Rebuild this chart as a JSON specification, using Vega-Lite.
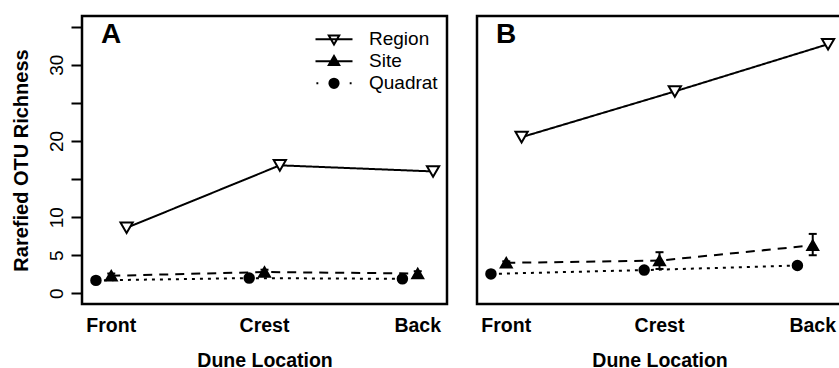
{
  "$schema": "https://vega.github.io/schema/vega-lite/v6.json",
  "background": "white",
  "padding": {"left": 9, "top": 14, "right": 0, "bottom": 0},
  "spacing": 26,
  "config": {
    "font": "Liberation Sans",
    "view": {"stroke": "black", "strokeWidth": 2.5},
    "axis": {"grid": false, "labelColor": "black", "titleColor": "black", "labelFont": "Liberation Sans", "titleFont": "Liberation Sans"}
  },
  "datasets": {
    "richness": [
      {"panel": "A", "location": "Front", "series": "Region", "value": 8.6, "lo": null, "hi": null},
      {"panel": "A", "location": "Crest", "series": "Region", "value": 16.8, "lo": null, "hi": null},
      {"panel": "A", "location": "Back", "series": "Region", "value": 16.0, "lo": null, "hi": null},
      {"panel": "A", "location": "Front", "series": "Site", "value": 2.3, "lo": 2.0, "hi": 2.6},
      {"panel": "A", "location": "Crest", "series": "Site", "value": 2.8, "lo": 2.5, "hi": 3.1},
      {"panel": "A", "location": "Back", "series": "Site", "value": 2.6, "lo": 2.35, "hi": 2.9},
      {"panel": "A", "location": "Front", "series": "Quadrat", "value": 1.7, "lo": 1.6, "hi": 1.8},
      {"panel": "A", "location": "Crest", "series": "Quadrat", "value": 2.0, "lo": 1.9, "hi": 2.1},
      {"panel": "A", "location": "Back", "series": "Quadrat", "value": 1.9, "lo": 1.8, "hi": 2.0},
      {"panel": "B", "location": "Front", "series": "Region", "value": 20.5, "lo": null, "hi": null},
      {"panel": "B", "location": "Crest", "series": "Region", "value": 26.5, "lo": null, "hi": null},
      {"panel": "B", "location": "Back", "series": "Region", "value": 32.7, "lo": null, "hi": null},
      {"panel": "B", "location": "Front", "series": "Site", "value": 4.0, "lo": 3.8, "hi": 4.2},
      {"panel": "B", "location": "Crest", "series": "Site", "value": 4.3, "lo": 3.2, "hi": 5.4},
      {"panel": "B", "location": "Back", "series": "Site", "value": 6.3, "lo": 5.0, "hi": 7.8},
      {"panel": "B", "location": "Front", "series": "Quadrat", "value": 2.55, "lo": 2.45, "hi": 2.65},
      {"panel": "B", "location": "Crest", "series": "Quadrat", "value": 3.05, "lo": 2.9, "hi": 3.2},
      {"panel": "B", "location": "Back", "series": "Quadrat", "value": 3.65, "lo": 3.45, "hi": 3.85}
    ]
  },
  "hconcat": [
    {
      "width": 365,
      "height": 288,
      "data": {"name": "richness"},
      "transform": [{"filter": "datum.panel === 'A'"}],
      "encoding": {
        "x": {
          "field": "location", "type": "nominal", "sort": ["Front", "Crest", "Back"],
          "scale": {"type": "band", "paddingInner": 0.8, "paddingOuter": 0.091},
          "axis": {"title": "Dune Location", "domain": false, "ticks": false, "tickSize": 0, "labelAngle": 0, "labelFontSize": 19.5, "labelFontWeight": "bold", "labelBaseline": "alphabetic", "labelPadding": 27, "titleFontSize": 19.5, "titleFontWeight": "bold", "titleBaseline": "alphabetic", "titleY": 62}
        },
        "xOffset": {"field": "series", "type": "nominal", "sort": ["Quadrat", "Site", "Region"], "scale": {"type": "point", "padding": 0}},
        "y": {
          "field": "value", "type": "quantitative",
          "scale": {"domain": [-1.4, 36.4], "nice": false, "zero": false},
          "axis": {"title": "Rarefied OTU Richness", "values": [0, 5, 10, 15, 20, 25, 30, 35], "labelExpr": "indexof([0, 5, 10, 20, 30], datum.value) >= 0 ? datum.label : ''", "domain": false, "tickSize": 11, "tickWidth": 2, "tickColor": "black", "labelAngle": 270, "labelAlign": "center", "labelBaseline": "alphabetic", "labelPadding": 9, "labelFontSize": 19, "labelFlush": false, "labelOverlap": false, "titleFontSize": 20, "titleFontWeight": "bold", "titleAngle": 270, "titleBaseline": "alphabetic", "titleX": -55}
        }
      },
      "layer": [
        {
          "mark": {"type": "line", "color": "black", "strokeWidth": 2},
          "encoding": {"strokeDash": {"field": "series", "type": "nominal", "scale": {"domain": ["Region", "Site", "Quadrat"], "range": [[1, 0], [9, 7], [3, 5]]}, "legend": null}}
        },
        {
          "mark": {"type": "rule", "color": "black", "strokeWidth": 2},
          "encoding": {"y": {"field": "lo", "type": "quantitative"}, "y2": {"field": "hi"}}
        },
        {
          "mark": {"type": "point", "shape": "stroke", "size": 64, "color": "black", "strokeWidth": 2, "opacity": 1},
          "encoding": {"y": {"field": "lo", "type": "quantitative"}}
        },
        {
          "mark": {"type": "point", "shape": "stroke", "size": 64, "color": "black", "strokeWidth": 2, "opacity": 1},
          "encoding": {"y": {"field": "hi", "type": "quantitative"}}
        },
        {
          "mark": {"type": "point", "filled": true, "opacity": 1, "stroke": "black", "strokeWidth": 2},
          "encoding": {
            "shape": {"field": "series", "type": "nominal", "scale": {"domain": ["Region", "Site", "Quadrat"], "range": ["triangle-down", "triangle-up", "circle"]}, "legend": null},
            "fill": {"field": "series", "type": "nominal", "scale": {"domain": ["Region", "Site", "Quadrat"], "range": ["white", "black", "black"]}, "legend": null},
            "size": {"field": "series", "type": "nominal", "scale": {"domain": ["Region", "Site", "Quadrat"], "range": [150, 90, 100]}, "legend": null}
          }
        },
        {
          "transform": [{"filter": "datum.series === 'Region' && datum.location === 'Front'"}],
          "mark": {"type": "text", "fontSize": 28, "fontWeight": "bold", "font": "Liberation Sans", "color": "black", "align": "left", "baseline": "alphabetic", "dx": 5},
          "encoding": {
            "x": {"datum": "Front"},
            "xOffset": {"datum": "Quadrat"},
            "y": {"datum": 32.87},
            "text": {"field": "panel"}
          }
        },
        {
          "transform": [{"filter": "false"}],
          "mark": {"type": "point", "filled": true, "opacity": 1, "strokeWidth": 2},
          "encoding": {
            "shape": {
              "field": "series", "type": "nominal",
              "scale": {"domain": ["Region", "Site", "Quadrat"], "range": [
                "M-1.85,0H1.85M-0.52,-0.37L0.52,-0.37L0,0.52Z",
                "M-1.85,0H1.85M-0.52,0.37L0.52,0.37L0,-0.52Z",
                "M-1.76,0H-1.57M1.57,0H1.76M0.46,0A0.46,0.46 0 1,1 -0.46,0A0.46,0.46 0 1,1 0.46,0Z"
              ]},
              "legend": {"title": null, "orient": "none", "legendX": 241, "legendY": 12.3, "padding": 0, "symbolSize": 400, "symbolStrokeWidth": 2, "labelFontSize": 19, "labelFont": "Liberation Sans", "labelColor": "black", "labelOffset": 24, "rowPadding": 1}
            },
            "fill": {
              "field": "series", "type": "nominal",
              "scale": {"domain": ["Region", "Site", "Quadrat"], "range": ["white", "black", "black"]},
              "legend": {"title": null, "orient": "none", "legendX": 241, "legendY": 12.3, "padding": 0, "symbolSize": 400, "symbolStrokeWidth": 2, "labelFontSize": 19, "labelFont": "Liberation Sans", "labelColor": "black", "labelOffset": 24, "rowPadding": 1}
            },
            "stroke": {
              "field": "series", "type": "nominal",
              "scale": {"domain": ["Region", "Site", "Quadrat"], "range": ["black", "black", "black"]},
              "legend": {"title": null, "orient": "none", "legendX": 241, "legendY": 12.3, "padding": 0, "symbolSize": 400, "symbolStrokeWidth": 2, "labelFontSize": 19, "labelFont": "Liberation Sans", "labelColor": "black", "labelOffset": 24, "rowPadding": 1}
            }
          }
        }
      ],
      "resolve": {"scale": {"shape": "independent", "fill": "independent", "stroke": "independent"}}
    },
    {
      "width": 365,
      "height": 288,
      "data": {"name": "richness"},
      "transform": [{"filter": "datum.panel === 'B'"}],
      "encoding": {
        "x": {
          "field": "location", "type": "nominal", "sort": ["Front", "Crest", "Back"],
          "scale": {"type": "band", "paddingInner": 0.8, "paddingOuter": 0.091},
          "axis": {"title": "Dune Location", "domain": false, "ticks": false, "tickSize": 0, "labelAngle": 0, "labelFontSize": 19.5, "labelFontWeight": "bold", "labelBaseline": "alphabetic", "labelPadding": 27, "titleFontSize": 19.5, "titleFontWeight": "bold", "titleBaseline": "alphabetic", "titleY": 62}
        },
        "xOffset": {"field": "series", "type": "nominal", "sort": ["Quadrat", "Site", "Region"], "scale": {"type": "point", "padding": 0}},
        "y": {
          "field": "value", "type": "quantitative",
          "scale": {"domain": [-1.4, 36.4], "nice": false, "zero": false},
          "axis": null
        }
      },
      "layer": [
        {
          "mark": {"type": "line", "color": "black", "strokeWidth": 2},
          "encoding": {"strokeDash": {"field": "series", "type": "nominal", "scale": {"domain": ["Region", "Site", "Quadrat"], "range": [[1, 0], [9, 7], [3, 5]]}, "legend": null}}
        },
        {
          "mark": {"type": "rule", "color": "black", "strokeWidth": 2},
          "encoding": {"y": {"field": "lo", "type": "quantitative"}, "y2": {"field": "hi"}}
        },
        {
          "mark": {"type": "point", "shape": "stroke", "size": 64, "color": "black", "strokeWidth": 2, "opacity": 1},
          "encoding": {"y": {"field": "lo", "type": "quantitative"}}
        },
        {
          "mark": {"type": "point", "shape": "stroke", "size": 64, "color": "black", "strokeWidth": 2, "opacity": 1},
          "encoding": {"y": {"field": "hi", "type": "quantitative"}}
        },
        {
          "mark": {"type": "point", "filled": true, "opacity": 1, "stroke": "black", "strokeWidth": 2},
          "encoding": {
            "shape": {"field": "series", "type": "nominal", "scale": {"domain": ["Region", "Site", "Quadrat"], "range": ["triangle-down", "triangle-up", "circle"]}, "legend": null},
            "fill": {"field": "series", "type": "nominal", "scale": {"domain": ["Region", "Site", "Quadrat"], "range": ["white", "black", "black"]}, "legend": null},
            "size": {"field": "series", "type": "nominal", "scale": {"domain": ["Region", "Site", "Quadrat"], "range": [150, 90, 100]}, "legend": null}
          }
        },
        {
          "transform": [{"filter": "datum.series === 'Region' && datum.location === 'Front'"}],
          "mark": {"type": "text", "fontSize": 28, "fontWeight": "bold", "font": "Liberation Sans", "color": "black", "align": "left", "baseline": "alphabetic", "dx": 5},
          "encoding": {
            "x": {"datum": "Front"},
            "xOffset": {"datum": "Quadrat"},
            "y": {"datum": 32.87},
            "text": {"field": "panel"}
          }
        }
      ]
    }
  ]
}
